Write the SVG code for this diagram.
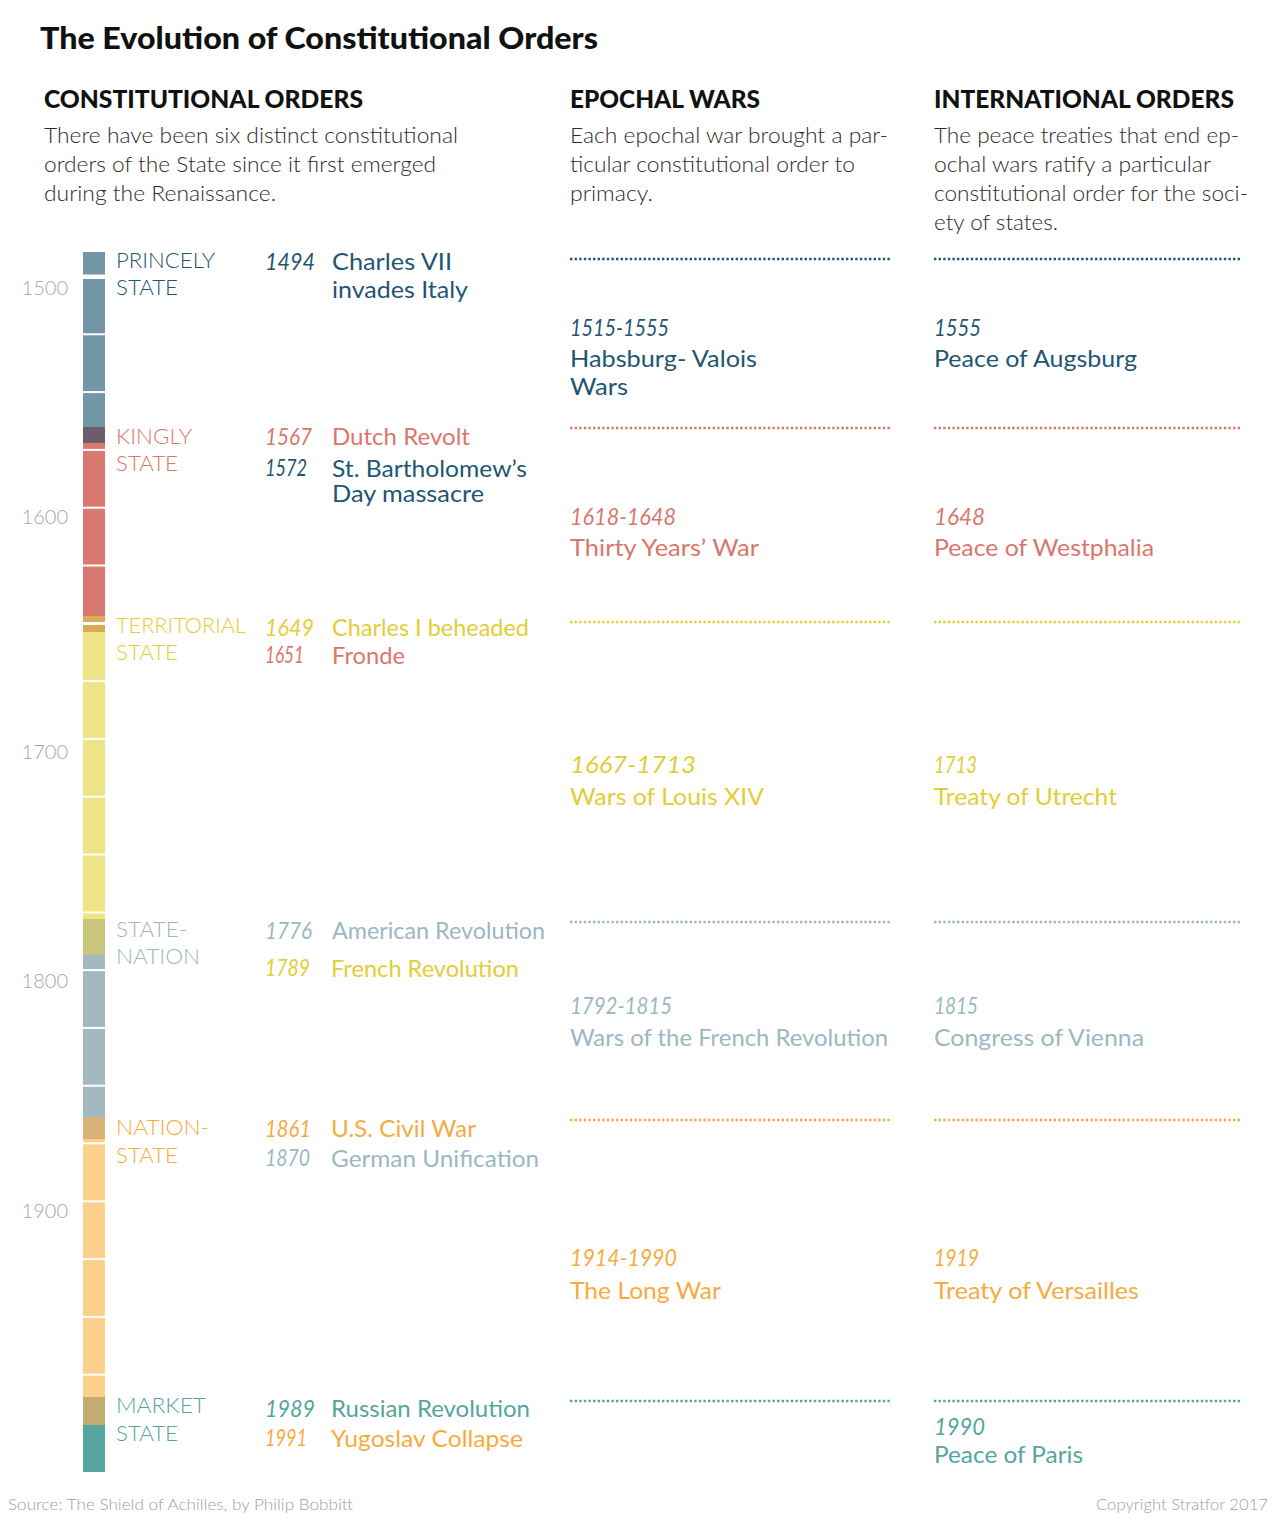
<svg xmlns="http://www.w3.org/2000/svg" width="1280" height="1521" viewBox="0 0 1280 1521">
<style>
text{font-family:Lato,"Open Sans","Liberation Sans",sans-serif}
.title{font-size:31px;font-weight:900;fill:#111}
.hdr{font-size:24px;font-weight:900;fill:#111}
.body{font-size:22px;font-weight:300;fill:#2b2b2b}
.axis{font-size:20px;font-weight:300;fill:#a6a6a6}
.stage{font-size:22px;font-weight:300}
.yr{font-size:24px;font-style:italic;font-weight:400}
.ev{font-size:24px;font-weight:400}
.ev2{font-size:23px;font-weight:400}
.foot{font-size:16px;font-weight:300;fill:#9e9e9e}
.blue{fill:#1e5673}.red{fill:#d9776b}.yel{fill:#e3cd37}.gry{fill:#9bb8c1}.org{fill:#f7ab3e}.teal{fill:#55a59d}
.dot{stroke-width:2.6;stroke-dasharray:2.4 2.2;fill:none}
</style>
<rect width="1280" height="1521" fill="#fff"/>
<text class="title" x="40" y="49" textLength="558" lengthAdjust="spacingAndGlyphs">The Evolution of Constitutional Orders</text>

<g id="col-constitutional">
<text class="hdr" x="44" y="108" textLength="319" lengthAdjust="spacingAndGlyphs">CONSTITUTIONAL ORDERS</text>
<text class="body" x="44" y="143" textLength="414" lengthAdjust="spacingAndGlyphs">There have been six distinct constitutional</text>
<text class="body" x="44" y="172" textLength="392" lengthAdjust="spacingAndGlyphs">orders of the State since it first emerged</text>
<text class="body" x="44" y="201" textLength="232" lengthAdjust="spacingAndGlyphs">during the Renaissance.</text>
</g>
<g id="col-epochal">
<text class="hdr" x="570" y="108" textLength="190" lengthAdjust="spacingAndGlyphs">EPOCHAL WARS</text>
<text class="body" x="570" y="143" textLength="318" lengthAdjust="spacingAndGlyphs">Each epochal war brought a par-</text>
<text class="body" x="570" y="172" textLength="285" lengthAdjust="spacingAndGlyphs">ticular constitutional order to</text>
<text class="body" x="570" y="201" textLength="83" lengthAdjust="spacingAndGlyphs">primacy.</text>
</g>
<g id="col-international">
<text class="hdr" x="934" y="108" textLength="300" lengthAdjust="spacingAndGlyphs">INTERNATIONAL ORDERS</text>
<text class="body" x="934" y="143" textLength="305" lengthAdjust="spacingAndGlyphs">The peace treaties that end ep-</text>
<text class="body" x="934" y="172" textLength="277" lengthAdjust="spacingAndGlyphs">ochal wars ratify a particular</text>
<text class="body" x="934" y="201" textLength="314" lengthAdjust="spacingAndGlyphs">constitutional order for the soci-</text>
<text class="body" x="934" y="230" textLength="124" lengthAdjust="spacingAndGlyphs">ety of states.</text>
</g>

<g id="axis">
<text class="axis" x="68" y="295" text-anchor="end">1500</text>
<text class="axis" x="68" y="524" text-anchor="end">1600</text>
<text class="axis" x="68" y="759" text-anchor="end">1700</text>
<text class="axis" x="68" y="988" text-anchor="end">1800</text>
<text class="axis" x="68" y="1218" text-anchor="end">1900</text>
</g>

<g id="timeline-bar">
<rect x="83" y="252" width="22" height="175" fill="#7396a6"/>
<rect x="83" y="427" width="22" height="16" fill="#6b5e6c"/>
<rect x="83" y="443" width="22" height="173" fill="#d87a6f"/>
<rect x="83" y="616" width="22" height="16" fill="#dca954"/>
<rect x="83" y="632" width="22" height="287" fill="#eee385"/>
<rect x="83" y="919" width="22" height="36" fill="#c9c67b"/>
<rect x="83" y="955" width="22" height="162" fill="#a1b9bf"/>
<rect x="83" y="1117" width="22" height="22" fill="#d9b27a"/>
<rect x="83" y="1139" width="22" height="258" fill="#fdd08c"/>
<rect x="83" y="1397" width="22" height="28" fill="#c2ac6f"/>
<rect x="83" y="1425" width="22" height="47" fill="#57a5a0"/>
<g fill="#fff">
<rect x="83" y="274.5" width="22" height="4.5"/>
<rect x="83" y="333.3" width="22" height="2"/>
<rect x="83" y="391.1" width="22" height="2"/>
<rect x="83" y="448.9" width="22" height="2"/>
<rect x="83" y="506.7" width="22" height="2"/>
<rect x="83" y="564.5" width="22" height="2"/>
<rect x="83" y="622" width="22" height="3"/>
<rect x="83" y="680.1" width="22" height="2"/>
<rect x="83" y="737.9" width="22" height="2"/>
<rect x="83" y="795.7" width="22" height="2"/>
<rect x="83" y="853.5" width="22" height="2"/>
<rect x="83" y="911.5" width="22" height="2"/>
<rect x="83" y="969.1" width="22" height="2"/>
<rect x="83" y="1026.9" width="22" height="2"/>
<rect x="83" y="1084.7" width="22" height="2"/>
<rect x="83" y="1142.3" width="22" height="2"/>
<rect x="83" y="1200.3" width="22" height="2"/>
<rect x="83" y="1258.1" width="22" height="2"/>
<rect x="83" y="1315.9" width="22" height="2"/>
<rect x="83" y="1373.7" width="22" height="2"/>
</g>
</g>

<g id="stage-princely">
<text class="stage blue" x="116" y="268" textLength="99" lengthAdjust="spacingAndGlyphs">PRINCELY</text>
<text class="stage blue" x="116" y="295" textLength="62" lengthAdjust="spacingAndGlyphs">STATE</text>
</g>
<g id="stage-kingly">
<text class="stage red" x="116" y="444" textLength="76" lengthAdjust="spacingAndGlyphs">KINGLY</text>
<text class="stage red" x="116" y="471" textLength="62" lengthAdjust="spacingAndGlyphs">STATE</text>
</g>
<g id="stage-territorial">
<text class="stage yel" x="116" y="633" textLength="130" lengthAdjust="spacingAndGlyphs">TERRITORIAL</text>
<text class="stage yel" x="116" y="660" textLength="62" lengthAdjust="spacingAndGlyphs">STATE</text>
</g>
<g id="stage-statenation">
<text class="stage gry" x="116" y="937" textLength="71" lengthAdjust="spacingAndGlyphs">STATE-</text>
<text class="stage gry" x="116" y="964" textLength="84" lengthAdjust="spacingAndGlyphs">NATION</text>
</g>
<g id="stage-nationstate">
<text class="stage org" x="116" y="1135" textLength="93" lengthAdjust="spacingAndGlyphs">NATION-</text>
<text class="stage org" x="116" y="1163" textLength="62" lengthAdjust="spacingAndGlyphs">STATE</text>
</g>
<g id="stage-market">
<text class="stage teal" x="116" y="1413" textLength="90" lengthAdjust="spacingAndGlyphs">MARKET</text>
<text class="stage teal" x="116" y="1441" textLength="62" lengthAdjust="spacingAndGlyphs">STATE</text>
</g>

<g id="events">
<text class="yr blue" x="265" y="270" textLength="50" lengthAdjust="spacingAndGlyphs">1494</text>
<text class="ev blue" x="332" y="270" textLength="120" lengthAdjust="spacingAndGlyphs">Charles VII</text>
<text class="ev blue" x="332" y="298" textLength="136" lengthAdjust="spacingAndGlyphs">invades Italy</text>
<text class="yr red" x="265" y="445" textLength="47" lengthAdjust="spacingAndGlyphs">1567</text>
<text class="ev red" x="332" y="445" textLength="138" lengthAdjust="spacingAndGlyphs">Dutch Revolt</text>
<text class="yr blue" x="265" y="476" textLength="42" lengthAdjust="spacingAndGlyphs" font-size="22">1572</text>
<text class="ev2 blue" x="332" y="477" textLength="195" lengthAdjust="spacingAndGlyphs">St. Bartholomew’s</text>
<text class="ev2 blue" x="332" y="502" textLength="152" lengthAdjust="spacingAndGlyphs">Day massacre</text>
<text class="yr yel" x="265" y="636" textLength="49" lengthAdjust="spacingAndGlyphs">1649</text>
<text class="ev yel" x="332" y="636" textLength="197" lengthAdjust="spacingAndGlyphs">Charles I beheaded</text>
<text class="yr red" x="265" y="663" textLength="39" lengthAdjust="spacingAndGlyphs" font-size="22">1651</text>
<text class="ev red" x="332" y="664" textLength="73" lengthAdjust="spacingAndGlyphs">Fronde</text>
<text class="yr gry" x="265" y="939" textLength="47" lengthAdjust="spacingAndGlyphs">1776</text>
<text class="ev gry" x="332" y="939" textLength="213" lengthAdjust="spacingAndGlyphs">American Revolution</text>
<text class="yr yel" x="265" y="976" textLength="45" lengthAdjust="spacingAndGlyphs">1789</text>
<text class="ev yel" x="331" y="977" textLength="188" lengthAdjust="spacingAndGlyphs">French Revolution</text>
<text class="yr org" x="265" y="1137" textLength="46" lengthAdjust="spacingAndGlyphs">1861</text>
<text class="ev org" x="331" y="1137" textLength="145" lengthAdjust="spacingAndGlyphs">U.S. Civil War</text>
<text class="yr gry" x="265" y="1166" textLength="45" lengthAdjust="spacingAndGlyphs" font-size="22">1870</text>
<text class="ev gry" x="331" y="1167" textLength="208" lengthAdjust="spacingAndGlyphs">German Unification</text>
<text class="yr teal" x="265" y="1417" textLength="50" lengthAdjust="spacingAndGlyphs">1989</text>
<text class="ev teal" x="331" y="1417" textLength="199" lengthAdjust="spacingAndGlyphs">Russian Revolution</text>
<text class="yr org" x="265" y="1446" textLength="42" lengthAdjust="spacingAndGlyphs" font-size="22">1991</text>
<text class="ev org" x="331" y="1447" textLength="192" lengthAdjust="spacingAndGlyphs">Yugoslav Collapse</text>
</g>

<g id="wars">
<text class="yr blue" x="570" y="336" textLength="99" lengthAdjust="spacingAndGlyphs">1515-1555</text>
<text class="ev blue" x="570" y="367" textLength="187" lengthAdjust="spacingAndGlyphs">Habsburg- Valois</text>
<text class="ev blue" x="570" y="395" textLength="58" lengthAdjust="spacingAndGlyphs">Wars</text>
<text class="yr red" x="570" y="525" textLength="106" lengthAdjust="spacingAndGlyphs">1618-1648</text>
<text class="ev red" x="570" y="556" textLength="189" lengthAdjust="spacingAndGlyphs">Thirty Years’ War</text>
<text class="yr yel" x="570" y="773" textLength="126" lengthAdjust="spacingAndGlyphs">1667-1713</text>
<text class="ev yel" x="570" y="805" textLength="194" lengthAdjust="spacingAndGlyphs">Wars of Louis XIV</text>
<text class="yr gry" x="570" y="1014" textLength="102" lengthAdjust="spacingAndGlyphs">1792-1815</text>
<text class="ev gry" x="570" y="1046" textLength="318" lengthAdjust="spacingAndGlyphs">Wars of the French Revolution</text>
<text class="yr org" x="570" y="1266" textLength="107" lengthAdjust="spacingAndGlyphs">1914-1990</text>
<text class="ev org" x="570" y="1299" textLength="151" lengthAdjust="spacingAndGlyphs">The Long War</text>
</g>

<g id="treaties">
<text class="yr blue" x="934" y="336" textLength="47" lengthAdjust="spacingAndGlyphs">1555</text>
<text class="ev blue" x="934" y="367" textLength="203" lengthAdjust="spacingAndGlyphs">Peace of Augsburg</text>
<text class="yr red" x="934" y="525" textLength="51" lengthAdjust="spacingAndGlyphs">1648</text>
<text class="ev red" x="934" y="556" textLength="220" lengthAdjust="spacingAndGlyphs">Peace of Westphalia</text>
<text class="yr yel" x="934" y="773" textLength="43" lengthAdjust="spacingAndGlyphs">1713</text>
<text class="ev yel" x="934" y="805" textLength="183" lengthAdjust="spacingAndGlyphs">Treaty of Utrecht</text>
<text class="yr gry" x="934" y="1014" textLength="44" lengthAdjust="spacingAndGlyphs">1815</text>
<text class="ev gry" x="934" y="1046" textLength="210" lengthAdjust="spacingAndGlyphs">Congress of Vienna</text>
<text class="yr org" x="934" y="1266" textLength="45" lengthAdjust="spacingAndGlyphs">1919</text>
<text class="ev org" x="934" y="1299" textLength="205" lengthAdjust="spacingAndGlyphs">Treaty of Versailles</text>
<text class="yr teal" x="934" y="1435" textLength="51" lengthAdjust="spacingAndGlyphs">1990</text>
<text class="ev teal" x="934" y="1463" textLength="149" lengthAdjust="spacingAndGlyphs">Peace of Paris</text>
</g>

<g id="connectors">
<line class="dot" x1="570" y1="259" x2="890" y2="259" stroke="#1e5673"/>
<line class="dot" x1="934" y1="259" x2="1242" y2="259" stroke="#1e5673"/>
<line class="dot" x1="570" y1="428" x2="890" y2="428" stroke="#d9776b"/>
<line class="dot" x1="934" y1="428" x2="1242" y2="428" stroke="#d9776b"/>
<line class="dot" x1="570" y1="622" x2="890" y2="622" stroke="#e3cd37"/>
<line class="dot" x1="934" y1="622" x2="1242" y2="622" stroke="#e3cd37"/>
<line class="dot" x1="570" y1="922" x2="890" y2="922" stroke="#9bb8c1"/>
<line class="dot" x1="934" y1="922" x2="1242" y2="922" stroke="#9bb8c1"/>
<line class="dot" x1="570" y1="1120" x2="890" y2="1120" stroke="#f7ab3e"/>
<line class="dot" x1="934" y1="1120" x2="1242" y2="1120" stroke="#f7ab3e"/>
<line class="dot" x1="570" y1="1401" x2="890" y2="1401" stroke="#55a59d"/>
<line class="dot" x1="934" y1="1401" x2="1242" y2="1401" stroke="#55a59d"/>
</g>

<g id="footer">
<text class="foot" x="8" y="1510" textLength="345" lengthAdjust="spacingAndGlyphs">Source: The Shield of Achilles, by Philip Bobbitt</text>
<text class="foot" x="1268" y="1510" text-anchor="end" textLength="172" lengthAdjust="spacingAndGlyphs">Copyright Stratfor 2017</text>
</g>
</svg>
